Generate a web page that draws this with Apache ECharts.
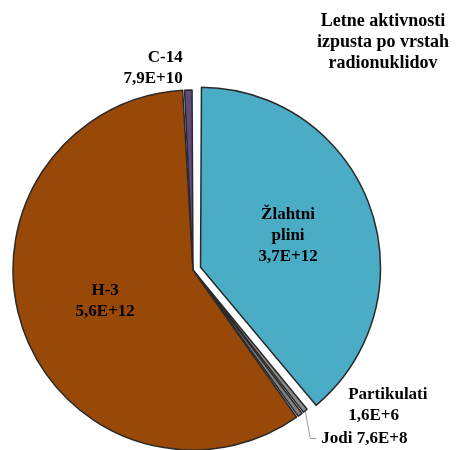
<!DOCTYPE html>
<html>
<head>
<meta charset="utf-8">
<style>
  html, body { margin: 0; padding: 0; background: #fff; }
  #chart { width: 469px; height: 450px; }
</style>
<script src="https://cdn.jsdelivr.net/npm/echarts@6/dist/echarts.min.js"></script>
</head>
<body>
<div id="chart"></div>
<script>
// Annual released activity by radionuclide group (Bq)
const names = ['Žlahtni plini', 'Jodi', 'Partikulati', 'H-3', 'C-14'];
const values = [3.7e12, 7.6e8, 1.6e6, 5.6e12, 7.9e10];
const valueLabels = ['3,7E+12', '7,6E+8', '1,6E+6', '5,6E+12', '7,9E+10'];
const colors = ['#4BACC6', '#8C8C8C', '#7F7F7F', '#984807', '#604A7B'];
const titleText = 'Letne aktivnosti\nizpusta po vrstah\nradionuklidov';

const font = '"Liberation Serif", "Times New Roman", serif';

const data = names.map((n, i) => {
  const item = {
    name: n,
    value: values[i],
    itemStyle: { color: colors[i] }
  };
  if (n === 'Žlahtni plini' || n === 'H-3') {
    item.label = {
      position: 'inside',
      formatter: (n === 'Žlahtni plini' ? 'Žlahtni\nplini' : n) + '\n' + valueLabels[i]
    };
    item.labelLine = { show: false };
  } else if (n === 'Jodi') {
    item.label = { position: 'outside', formatter: n + ' ' + valueLabels[i] };
    item.labelLine = { show: true, length: 8, length2: 6, lineStyle: { color: '#9a9a9a', width: 1 } };
  } else if (n === 'C-14') {
    item.label = { position: 'outside', formatter: n + '\n' + valueLabels[i] };
    item.labelLine = { show: false, length: 22, length2: 0 };
  } else {
    item.label = { position: 'outside', formatter: n + '\n' + valueLabels[i] };
    item.labelLine = { show: false, length: 8, length2: 6 };
  }
  if (n === 'Žlahtni plini') item.selected = true;
  return item;
});

const chart = echarts.init(document.getElementById('chart'));
chart.setOption({
  animation: false,
  title: {
    text: titleText,
    left: 378,
    top: 6,
    textAlign: 'center',
    textStyle: {
      fontFamily: font,
      fontSize: 18,
      fontWeight: 'bold',
      color: '#000',
      lineHeight: 21,
      align: 'center'
    }
  },
  series: [{
    type: 'pie',
    center: [193, 270],
    radius: [0, 180],
    startAngle: 90,
    clockwise: true,
    minAngle: 1.5,
    padAngle: 0.6,
    selectedMode: 'multiple',
    selectedOffset: 8,
    avoidLabelOverlap: true,
    itemStyle: {
      borderColor: '#2a2a2a',
      borderWidth: 1.5
    },
    label: {
      fontFamily: font,
      fontSize: 17,
      fontWeight: 'bold',
      color: '#000',
      lineHeight: 21,
      align: 'center'
    },
    emphasis: { disabled: true },
    data: data
  }]
});
</script>
</body>
</html>
